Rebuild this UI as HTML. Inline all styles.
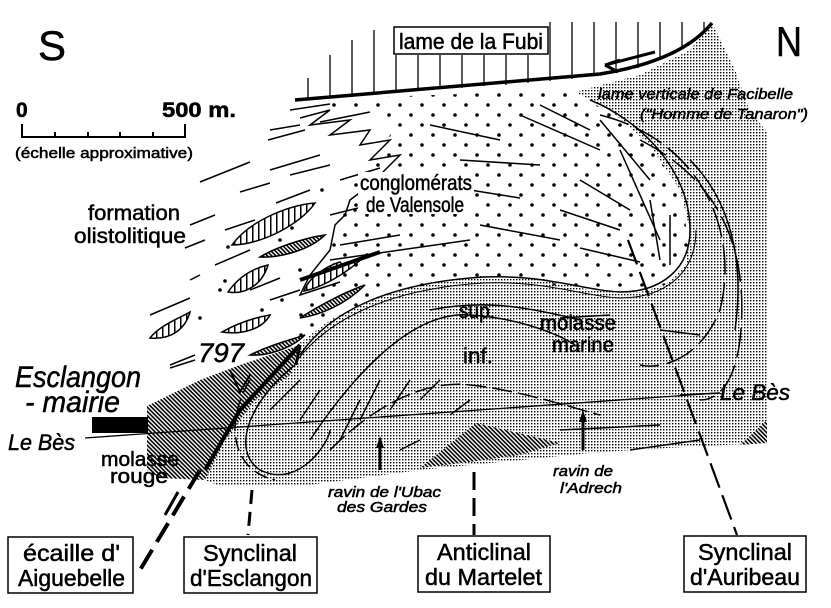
<!DOCTYPE html>
<html><head><meta charset="utf-8"><style>
html,body{margin:0;padding:0;background:#fff}
svg{display:block}
text{font-family:"Liberation Sans Narrow","Liberation Sans",sans-serif;fill:#000;stroke:#000;stroke-width:0.5}
.it{font-style:italic}
</style></head><body>
<svg width="831" height="608" viewBox="0 0 831 608" xmlns="http://www.w3.org/2000/svg">
<defs>
<pattern id="st" width="3" height="3" patternUnits="userSpaceOnUse"><rect width="3" height="3" fill="#fff"/><rect x="0" y="0" width="1.4" height="1.4" fill="#000"/></pattern>
<pattern id="hh" width="3" height="3" patternUnits="userSpaceOnUse" patternTransform="rotate(45)"><rect width="3" height="3" fill="#fff"/><rect width="3" height="1.6" fill="#000"/></pattern>
<pattern id="vh" width="6" height="6" patternUnits="userSpaceOnUse"><rect width="6" height="6" fill="#fff"/><rect width="1.5" height="6" fill="#000"/></pattern>
<pattern id="dots" width="22" height="20" patternUnits="userSpaceOnUse"><circle cx="4" cy="5" r="1.8" fill="#000"/><circle cx="15" cy="15" r="1.8" fill="#000"/></pattern>
</defs>

<path d="M200,420 L240,380 L290,350 L330,320 L370,300 L420,285 L480,276 L540,278 L590,290 L640,292 L665,285 L685,265 L690,230 L680,190 L650,145 L610,110 L575,92 L640,75 L690,50 L712,23 L735,70 L750,112 L768,133 L768,443 L700,446 L600,452 L500,462 L420,470 L300,486 L220,486 L200,478 Z" fill="url(#st)"/>
<path d="M147,406 L200,380 L240,365 L300,345 L290,375 L255,400 L225,440 L205,480 L160,478 L147,470 Z" fill="url(#hh)"/>
<path d="M420,468 L476,423 L560,443 L520,455 L470,462 Z" fill="url(#hh)"/>
<path d="M740,445 L767,420 L767,443 Z" fill="url(#hh)"/>

<path d="M300,100 L570,90 L640,130 L680,190 L690,250 L665,285 L590,290 L480,276 L400,290 L330,320 L290,350 L300,300 L330,250 L350,190 L380,150 L400,120 Z" fill="url(#dots)"/>
<path d="M300,355 C330,310 390,285 470,278 C540,272 580,290 620,292 C660,292 690,270 690,230 C690,170 640,120 590,100" fill="none" stroke="#000" stroke-width="1.5"/>
<path d="M296,362 C330,316 392,291 470,284 C540,278 580,296 620,298 C664,298 696,274 696,230" fill="none" stroke="#000" stroke-width="1"/>

<g stroke="#000" stroke-width="1.3">
<line x1="308" y1="78" x2="308" y2="100"/><line x1="330" y1="55" x2="330" y2="98"/><line x1="352" y1="40" x2="352" y2="97"/><line x1="374" y1="30" x2="374" y2="95"/>
<line x1="396" y1="55" x2="396" y2="93"/><line x1="418" y1="55" x2="418" y2="91"/><line x1="440" y1="55" x2="440" y2="89"/><line x1="462" y1="55" x2="462" y2="88"/><line x1="484" y1="55" x2="484" y2="86"/><line x1="506" y1="55" x2="506" y2="85"/><line x1="528" y1="55" x2="528" y2="83"/>
<line x1="550" y1="22" x2="550" y2="81"/><line x1="572" y1="22" x2="572" y2="79"/><line x1="594" y1="22" x2="594" y2="76"/><line x1="616" y1="22" x2="616" y2="73"/><line x1="638" y1="22" x2="638" y2="68"/><line x1="660" y1="22" x2="660" y2="60"/><line x1="682" y1="22" x2="682" y2="48"/><line x1="704" y1="22" x2="704" y2="30"/>
</g>
<path d="M295,100 L600,74 C650,66 690,50 712,23" fill="none" stroke="#000" stroke-width="3.5"/>
<path d="M655,52 L605,65 L620,60 M605,65 L618,72" fill="none" stroke="#000" stroke-width="3"/>
<rect x="394" y="27" width="154" height="27" fill="#fff" stroke="#000" stroke-width="1.5"/>
<text x="399" y="49" font-size="22" textLength="144" lengthAdjust="spacingAndGlyphs">lame de la Fubi</text>

<g stroke="#000" stroke-width="1.5" fill="none">
<line x1="290" y1="110" x2="330" y2="104"/><line x1="270" y1="130" x2="300" y2="125"/><line x1="320" y1="122" x2="370" y2="112"/>
<line x1="268" y1="140" x2="305" y2="130"/><line x1="200" y1="182" x2="250" y2="162"/><line x1="270" y1="170" x2="320" y2="155"/>
<line x1="240" y1="192" x2="270" y2="183"/><line x1="290" y1="175" x2="330" y2="165"/><line x1="190" y1="225" x2="215" y2="215"/>
<line x1="225" y1="230" x2="255" y2="220"/><line x1="276" y1="203" x2="310" y2="190"/><line x1="185" y1="248" x2="205" y2="240"/>
<line x1="215" y1="265" x2="250" y2="250"/><line x1="190" y1="280" x2="200" y2="275"/><line x1="250" y1="290" x2="280" y2="278"/>
<line x1="150" y1="315" x2="190" y2="298"/><line x1="170" y1="365" x2="195" y2="355"/><line x1="270" y1="300" x2="300" y2="290"/>
<line x1="340" y1="180" x2="380" y2="168"/><line x1="330" y1="215" x2="390" y2="200"/>
<line x1="340" y1="245" x2="400" y2="235"/><line x1="330" y1="260" x2="470" y2="240"/><line x1="430" y1="125" x2="500" y2="140"/>
<line x1="460" y1="160" x2="540" y2="165"/><line x1="470" y1="190" x2="520" y2="198"/><line x1="520" y1="115" x2="600" y2="150"/>
<line x1="540" y1="105" x2="590" y2="130"/><line x1="600" y1="120" x2="650" y2="180"/><line x1="620" y1="150" x2="660" y2="240"/>
<line x1="580" y1="180" x2="630" y2="210"/><line x1="560" y1="210" x2="620" y2="230"/><line x1="480" y1="225" x2="560" y2="240"/>
<line x1="580" y1="248" x2="640" y2="262"/><line x1="650" y1="200" x2="660" y2="260"/><line x1="670" y1="215" x2="670" y2="265"/>
<path d="M300,118 L330,110 L310,125 L350,120 L330,135 L370,130 L360,145 L390,140 L370,160 L400,155 L380,175 L370,185 L350,200 L345,215 L335,225 L330,250 L310,275 L300,295 L340,282"/>
</g>
<g stroke="#000" stroke-width="1.5">
<path d="M232,245 C250,220 290,205 315,203 C300,225 260,245 232,245 Z" fill="url(#vh)"/>
<path d="M260,257 C280,245 310,237 325,235 C310,250 280,258 260,257 Z" fill="url(#hh)"/>
<path d="M228,292 C240,275 255,268 268,265 C262,285 245,295 228,292 Z" fill="url(#vh)"/>
<path d="M150,338 C160,325 180,318 190,312 C185,330 170,340 150,338 Z" fill="url(#vh)"/>
<path d="M222,332 C240,322 258,317 270,315 C262,330 240,335 222,332 Z" fill="url(#vh)"/>
<path d="M304,291 C310,275 330,265 340,262 C345,270 350,260 365,256 C345,275 320,288 304,291 Z" fill="url(#vh)"/>
<path d="M300,318 C320,305 345,292 365,285 C345,305 320,315 300,318 Z" fill="url(#hh)"/>
<path d="M250,355 C270,345 290,340 305,335 C290,350 265,356 250,355 Z" fill="url(#hh)"/>
<path d="M300,280 L380,252" stroke-width="4"/>
</g>
<g fill="#000">
<circle cx="228" cy="247" r="1.8"/><circle cx="220" cy="290" r="1.8"/><circle cx="200" cy="318" r="1.8"/><circle cx="225" cy="281" r="1.8"/>
<circle cx="280" cy="240" r="1.8"/><circle cx="282" cy="300" r="1.8"/><circle cx="300" cy="270" r="1.8"/><circle cx="322" cy="190" r="1.8"/>
<circle cx="355" cy="210" r="1.8"/><circle cx="292" cy="228" r="1.8"/><circle cx="262" cy="310" r="1.8"/>
</g>

<g stroke="#000" stroke-width="1.5" fill="none">
<path d="M295,365 C250,400 230,450 260,470 C300,490 330,440 330,430"/>
<path d="M250,380 C225,420 230,470 275,480" stroke-dasharray="14,6"/>
<path d="M310,440 C350,380 410,310 470,315 C520,318 560,335 575,345"/>
<path d="M330,450 C380,400 430,380 470,385 C520,390 580,410 600,415" stroke-dasharray="20,6"/>
<path d="M430,310 C480,300 520,305 580,320"/>
<path d="M600,115 C700,140 740,230 720,310 C700,360 660,370 640,365" stroke-dasharray="30,8"/>
<path d="M640,140 C720,180 750,250 740,340 C735,380 720,400 700,400" stroke-dasharray="30,8"/>
<path d="M690,160 C730,200 745,260 735,330"/>
<path d="M560,430 L660,425"/><path d="M630,450 L700,440"/><path d="M680,395 L720,393"/>
<path d="M560,318 L610,315"/><path d="M660,330 L700,335"/>
<path d="M340,440 L360,400"/><path d="M360,420 L380,380"/><path d="M390,410 L410,380"/><path d="M300,420 L320,390"/><path d="M270,410 L300,380"/>
<path d="M420,400 L440,380"/><path d="M450,415 L470,400"/><path d="M400,450 L420,440"/>
</g>
<line x1="85" y1="438" x2="718" y2="393" stroke="#000" stroke-width="1.3"/>
<rect x="92" y="417" width="56" height="16" fill="#000"/>
<path d="M205,470 L240,410 L300,345" stroke="#000" stroke-width="4" fill="none"/>
<path d="M300,345 L285,360 M300,345 L296,365" stroke="#000" stroke-width="3"/>
<line x1="200" y1="470" x2="140" y2="570" stroke="#000" stroke-width="4" stroke-dasharray="22,9"/>
<path d="M165,515 L178,492" stroke="#000" stroke-width="3" fill="none"/>
<path d="M230,370 L240,392 L250,375" stroke="#000" stroke-width="2" fill="none"/>
<line x1="195" y1="360" x2="170" y2="368" stroke="#000" stroke-width="1.5"/>
<g stroke="#000" stroke-width="3" fill="none">
<line x1="252" y1="490" x2="248" y2="535" stroke-dasharray="14,8"/>
<line x1="474" y1="472" x2="474" y2="535" stroke-dasharray="18,8"/>
<line x1="628" y1="240" x2="737" y2="535" stroke-dasharray="26,8" stroke-width="2.2"/>
<line x1="380" y1="470" x2="380" y2="446"/><line x1="583" y1="450" x2="583" y2="420"/>
</g>
<path d="M376,448 L380,436 L384,448 Z M579,422 L583,410 L587,422 Z" fill="#000"/>

<rect x="358" y="172" width="116" height="42" fill="#fff"/>
<g>
<text x="38" y="60" font-size="42" textLength="28" lengthAdjust="spacingAndGlyphs">S</text>
<text x="776" y="56" font-size="42" textLength="26" lengthAdjust="spacingAndGlyphs">N</text>
<text x="16" y="117" font-size="21" font-weight="bold">0</text>
<text x="162" y="117" font-size="21" font-weight="bold" textLength="74" lengthAdjust="spacingAndGlyphs">500 m.</text>
<text x="15" y="158" font-size="15" textLength="178" lengthAdjust="spacingAndGlyphs">(échelle approximative)</text>
<text x="88" y="220" font-size="21" textLength="92" lengthAdjust="spacingAndGlyphs">formation</text>
<text x="74" y="243" font-size="21" textLength="112" lengthAdjust="spacingAndGlyphs">olistolitique</text>
<text x="360" y="190" font-size="21" textLength="112" lengthAdjust="spacingAndGlyphs">conglomérats</text>
<text x="366" y="212" font-size="21" textLength="98" lengthAdjust="spacingAndGlyphs">de Valensole</text>
<text x="598" y="99" font-size="15" class="it" textLength="195" lengthAdjust="spacingAndGlyphs">lame verticale de  Facibelle</text>
<text x="640" y="119" font-size="15" class="it" textLength="168" lengthAdjust="spacingAndGlyphs">("Homme de Tanaron")</text>
<text x="459" y="318" font-size="21" textLength="36" lengthAdjust="spacingAndGlyphs">sup.</text>
<text x="463" y="363" font-size="21" textLength="30" lengthAdjust="spacingAndGlyphs">inf.</text>
<text x="540" y="330" font-size="21" textLength="76" lengthAdjust="spacingAndGlyphs">molasse</text>
<text x="552" y="352" font-size="21" textLength="62" lengthAdjust="spacingAndGlyphs">marine</text>
<text x="198" y="362" font-size="27" class="it" textLength="46" lengthAdjust="spacingAndGlyphs">797</text>
<text x="15" y="387" font-size="30" class="it" textLength="126" lengthAdjust="spacingAndGlyphs">Esclangon</text>
<text x="25" y="412" font-size="30" class="it" textLength="95" lengthAdjust="spacingAndGlyphs">- mairie</text>
<text x="8" y="450" font-size="22" class="it" textLength="67" lengthAdjust="spacingAndGlyphs">Le Bès</text>
<text x="720" y="400" font-size="22" class="it" textLength="70" lengthAdjust="spacingAndGlyphs">Le Bès</text>
<text x="101" y="466" font-size="20" textLength="78" lengthAdjust="spacingAndGlyphs">molasse</text>
<text x="110" y="483" font-size="20" textLength="58" lengthAdjust="spacingAndGlyphs">rouge</text>
<text x="328" y="497" font-size="15" class="it" textLength="113" lengthAdjust="spacingAndGlyphs">ravin de l'Ubac</text>
<text x="337" y="512" font-size="15" class="it" textLength="90" lengthAdjust="spacingAndGlyphs">des  Gardes</text>
<text x="553" y="476" font-size="15" class="it" textLength="60" lengthAdjust="spacingAndGlyphs">ravin de</text>
<text x="560" y="493" font-size="15" class="it" textLength="62" lengthAdjust="spacingAndGlyphs">l'Adrech</text>
</g>
<path d="M22,124 V137 H185 V124 M55,132 V137 M88,132 V137 M120,132 V137 M153,132 V137" fill="none" stroke="#000" stroke-width="2"/>

<g fill="#fff" stroke="#000" stroke-width="1.5">
<rect x="8" y="537" width="125" height="56"/><rect x="184" y="537" width="133" height="56"/>
<rect x="418" y="536" width="132" height="56"/><rect x="684" y="536" width="122" height="56"/>
</g>
<g font-size="23">
<text x="23" y="561" textLength="97" lengthAdjust="spacingAndGlyphs">écaille d'</text>
<text x="18" y="586" textLength="107" lengthAdjust="spacingAndGlyphs">Aiguebelle</text>
<text x="203" y="561" textLength="94" lengthAdjust="spacingAndGlyphs">Synclinal</text>
<text x="190" y="586" textLength="122" lengthAdjust="spacingAndGlyphs">d'Esclangon</text>
<text x="437" y="560" textLength="94" lengthAdjust="spacingAndGlyphs">Anticlinal</text>
<text x="425" y="585" textLength="117" lengthAdjust="spacingAndGlyphs">du Martelet</text>
<text x="698" y="560" textLength="94" lengthAdjust="spacingAndGlyphs">Synclinal</text>
<text x="690" y="585" textLength="110" lengthAdjust="spacingAndGlyphs">d'Auribeau</text>
</g>
</svg>
</body></html>
